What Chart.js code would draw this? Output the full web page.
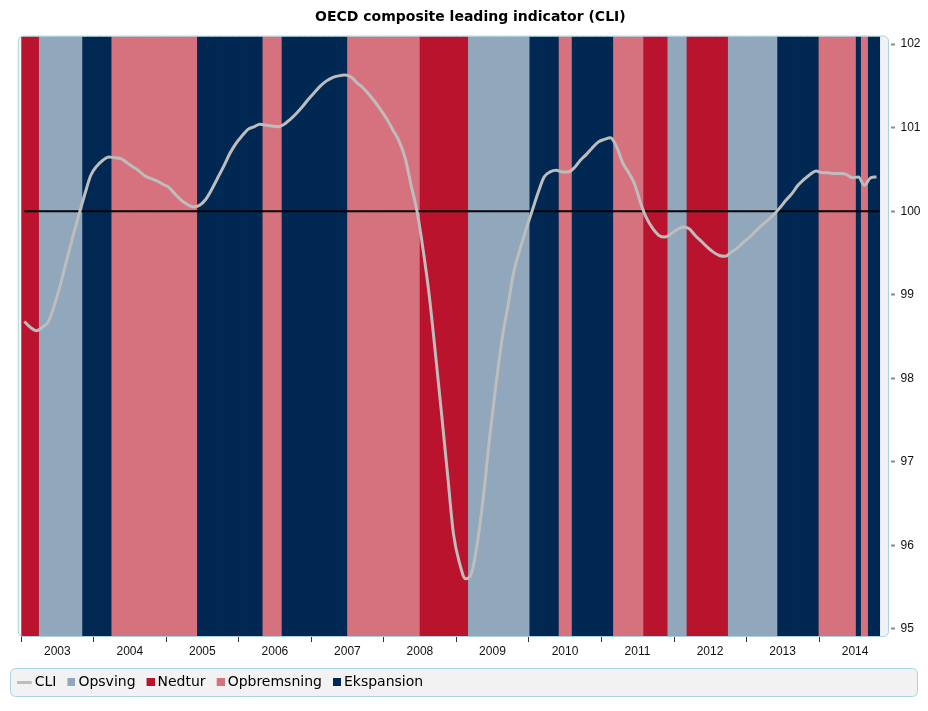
<!DOCTYPE html>
<html>
<head>
<meta charset="utf-8">
<title>OECD composite leading indicator (CLI)</title>
<script src="https://cdn.jsdelivr.net/npm/chart.js@4.4.1/dist/chart.umd.min.js"></script>
<style>
  html, body { margin: 0; padding: 0; background: #fff; }
  #wrap { width: 928px; height: 711px; }
</style>
</head>
<body>
<div id="wrap"><canvas id="cli"></canvas></div>
<script>
// ---- data (monthly, Jan 2003 .. Oct 2014) ----
const years = ['2003', '2004', '2005', '2006', '2007', '2008', '2009', '2010', '2011', '2012', '2013', '2014'];

const cli = [
  98.68, 98.61, 98.57, 98.61, 98.68, 98.88, 99.13, 99.41, 99.69, 99.95, 100.20, 100.43, // 2003
  100.54, 100.61, 100.65, 100.64, 100.63, 100.58, 100.53, 100.48, 100.42, 100.39, 100.36, 100.32, // 2004
  100.28, 100.20, 100.13, 100.08, 100.05, 100.07, 100.14, 100.26, 100.40, 100.54, 100.69, 100.81, // 2005
  100.90, 100.98, 101.01, 101.04, 101.03, 101.02, 101.01, 101.04, 101.10, 101.17, 101.25, 101.34, // 2006
  101.42, 101.50, 101.56, 101.60, 101.62, 101.63, 101.61, 101.54, 101.48, 101.40, 101.31, 101.21, // 2007
  101.10, 100.97, 100.84, 100.64, 100.31, 99.99, 99.53, 98.99, 98.31, 97.60, 96.87, 96.14,       // 2008
  95.79, 95.60, 95.67, 96.05, 96.61, 97.30, 97.90, 98.45, 98.86, 99.28, 99.54, 99.78,             // 2009
  100.00, 100.22, 100.41, 100.47, 100.49, 100.47, 100.47, 100.52, 100.61, 100.68, 100.76, 100.83, // 2010
  100.86, 100.88, 100.77, 100.58, 100.46, 100.32, 100.09, 99.91, 99.79, 99.71, 99.69, 99.73,      // 2011
  99.78, 99.81, 99.79, 99.71, 99.64, 99.57, 99.51, 99.47, 99.46, 99.51, 99.56, 99.63,             // 2012
  99.69, 99.76, 99.83, 99.89, 99.96, 100.04, 100.13, 100.21, 100.31, 100.38, 100.44, 100.48,     // 2013
  100.46, 100.46, 100.45, 100.45, 100.44, 100.40, 100.41, 100.31, 100.40, 100.41                 // 2014
];

// business-cycle phase, as consecutive runs of months
const phaseRuns = [
  ['Nedtur', 3], ['Opsving', 7], ['Ekspansion', 5], ['Opbremsning', 14],
  ['Ekspansion', 11], ['Opbremsning', 3], ['Ekspansion', 11], ['Opbremsning', 12],
  ['Nedtur', 8], ['Opsving', 10], ['Ekspansion', 5], ['Opbremsning', 2],
  ['Ekspansion', 7], ['Opbremsning', 5], ['Nedtur', 4], ['Opsving', 3],
  ['Nedtur', 7], ['Opsving', 8], ['Ekspansion', 7], ['Opbremsning', 6],
  ['Ekspansion', 1], ['Opbremsning', 1], ['Ekspansion', 2]
];

const phaseNames = ['Opsving', 'Nedtur', 'Opbremsning', 'Ekspansion'];
const yTicks = [95, 96, 97, 98, 99, 100, 101, 102];
const referenceLevel = 100;

// ---- styling ----
const COLOR = {
  Opsving: '#91a7bc',
  Nedtur: '#ba132e',
  Opbremsning: '#d6717e',
  Ekspansion: '#002852',
  cli: '#bdbdbd',
  ref: '#000',
  panel: '#f2f2f2',
  frame: '#a9d2e2'
};
const Y_MIN = 94.915, Y_MAX = 102.09; // a little air above/below the 95..102 ticks
const X_MAX = 143.4;                  // axis runs a bit past the last month

// expand the runs to one phase per month
const phaseOfMonth = [];
phaseRuns.forEach(([name, n]) => { for (let k = 0; k < n; k++) phaseOfMonth.push(name); });

function bandData(name) {
  return phaseOfMonth
    .map((p, i) => (p === name ? { x: i + 0.5, y: [Y_MIN, Y_MAX] } : null))
    .filter(Boolean);
}

// small canvases used as legend markers; the mark sits at the left of a
// wider transparent canvas so it lands closer to its label
function swatch(w, h, color, canvasW) {
  const c = document.createElement('canvas');
  c.width = canvasW; c.height = h;
  const g = c.getContext('2d');
  g.fillStyle = color;
  g.fillRect(canvasW === w ? 0 : (canvasW - w) * (w > 10 ? 0 : 1), 0, w, h);
  return c;
}

function rrect(ctx, x, y, w, h, r) {
  ctx.beginPath();
  if (ctx.roundRect) ctx.roundRect(x, y, w, h, r);
  else ctx.rect(x, y, w, h);
}

// grey plot panel, framed, and the framed legend strip
const panelPlugin = {
  id: 'panels',
  beforeDraw(chart) {
    const { ctx, chartArea: a, legend } = chart;
    ctx.save();
    ctx.fillStyle = COLOR.panel;
    rrect(ctx, a.left - 3, a.top - 0.5, a.right - a.left + 3.5, a.bottom - a.top + 1, 5);
    ctx.fill();
    const hb = legend.legendHitBoxes[0];
    if (hb) {
      const cy = hb.top + hb.height / 2;
      rrect(ctx, 10.5, Math.round(cy) - 13.5, chart.width - 21, 28, 5);
      ctx.fillStyle = COLOR.panel;
      ctx.fill();
      ctx.strokeStyle = COLOR.frame;
      ctx.lineWidth = 1;
      ctx.stroke();
    }
    ctx.restore();
  },
  afterDatasetsDraw(chart) {
    const { ctx, chartArea: a } = chart;
    ctx.save();
    ctx.strokeStyle = COLOR.frame;
    ctx.lineWidth = 1;
    rrect(ctx, a.left - 3, a.top - 0.5, a.right - a.left + 3.5, a.bottom - a.top + 1, 5);
    ctx.stroke();
    ctx.restore();
  }
};

const bandSets = phaseNames.map(name => ({
  type: 'bar',
  label: name,
  data: bandData(name),
  backgroundColor: COLOR[name],
  borderWidth: 0,
  inflateAmount: 0.5,
  barPercentage: 1,
  categoryPercentage: 1,
  grouped: false,
  yAxisID: 'y',
  order: 2,
  legendMark: swatch(8, 8, COLOR[name], 11)
}));

const datasets = [
  {
    type: 'line',
    label: 'CLI',
    data: cli.map((v, i) => ({ x: i + 0.5, y: v })),
    borderColor: COLOR.cli,
    borderWidth: 3,
    pointRadius: 0,
    cubicInterpolationMode: 'monotone',
    yAxisID: 'y',
    order: 0,
    legendMark: swatch(15, 3, COLOR.cli, 19)
  },
  ...bandSets,
  {
    type: 'line',
    data: [{ x: 0.5, y: referenceLevel }, { x: cli.length, y: referenceLevel }],
    borderColor: COLOR.ref,
    borderWidth: 2,
    pointRadius: 0,
    yAxisID: 'y',
    order: 1
  }
];

const tickFont = { family: '"Liberation Sans", Arial, sans-serif', size: 12 };

new Chart(document.getElementById('cli'), {
  type: 'bar',
  data: { datasets },
  options: {
    animation: false,
    responsive: true,
    maintainAspectRatio: false,
    layout: { padding: { left: 12.7, right: 0, top: 0, bottom: 12 } },
    scales: {
      x: {
        type: 'linear',
        min: 0,
        max: X_MAX,
        offset: false,
        grid: { drawOnChartArea: false, offset: false, tickLength: 6, tickColor: '#333' },
        border: { display: false },
        afterBuildTicks: s => { s.ticks = years.map((y, i) => ({ value: i * 12 })); },
        afterFit: s => { s.height = 27; },
        ticks: {
          autoSkip: false, maxRotation: 0, padding: 2, labelOffset: 36,
          color: '#111', font: tickFont,
          callback: v => years[v / 12]
        }
      },
      y: {
        position: 'right',
        min: Y_MIN,
        max: Y_MAX,
        grid: { drawOnChartArea: false, tickLength: 7, tickColor: '#8c8c8c', tickWidth: 2, tickBorderDash: [0, 3, 4, 20] },
        border: { display: false },
        afterBuildTicks: s => { s.ticks = yTicks.map(v => ({ value: v })); },
        afterFit: s => { s.width = 40; },
        ticks: { padding: 5.5, color: '#111', font: tickFont, callback: v => String(v) }
      },
      // empty spacer so the legend can start left of the plot
      pad: {
        axis: 'y',
        type: 'linear',
        position: 'left',
        ticks: { display: false },
        grid: { display: false },
        border: { display: false },
        afterFit: s => { s.width = 8.6; }
      }
    },
    plugins: {
      title: {
        display: true,
        text: 'OECD composite leading indicator (CLI)',
        color: '#000',
        font: { family: '"DejaVu Sans", Verdana, sans-serif', size: 14, weight: 'bold', lineHeight: 1.2 },
        padding: { top: 9, bottom: 10.8 }
      },
      legend: {
        position: 'bottom',
        align: 'start',
        labels: {
          usePointStyle: true,
          boxWidth: 3,
          boxHeight: 8,
          padding: 12,
          color: '#000',
          font: { family: '"DejaVu Sans", Verdana, sans-serif', size: 14 },
          generateLabels: chart => chart.data.datasets
            .map((ds, i) => ({
              text: ds.label, pointStyle: ds.legendMark, datasetIndex: i,
              hidden: false, lineWidth: 0, fillStyle: 'transparent', strokeStyle: 'transparent', fontColor: '#000'
            }))
            .filter(it => it.text)
        }
      },
      tooltip: { enabled: false }
    }
  },
  plugins: [panelPlugin]
});
</script>
</body>
</html>
